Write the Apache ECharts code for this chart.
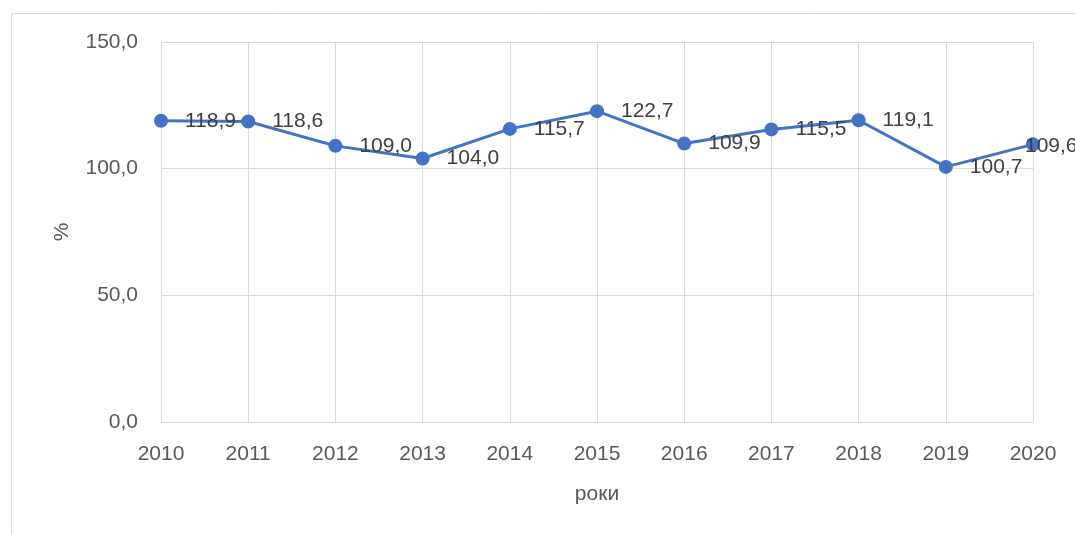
<!DOCTYPE html>
<html>
<head>
<meta charset="utf-8">
<script src="https://cdn.jsdelivr.net/npm/echarts@6/dist/echarts.min.js"></script>
<style>
  html, body { margin: 0; padding: 0; background: #fff; }
  #chart { width: 1075px; height: 534px; }
</style>
</head>
<body>
<div id="chart"></div>
<script>
// роки
const years = ["2010", "2011", "2012", "2013", "2014", "2015", "2016", "2017", "2018", "2019", "2020"];
// %
const values = [118.9, 118.6, 109.0, 104.0, 115.7, 122.7, 109.9, 115.5, 119.1, 100.7, 109.6];
const yTicks = [0, 50, 100, 150];

const fmt = (v) => Number(v).toFixed(1).replace(".", ",");
const font = "'Liberation Sans', Arial, sans-serif";

var chart = echarts.init(document.getElementById("chart"));
var option = {
  animation: false,
  backgroundColor: "#fff",
  graphic: [
    {
      // chart area frame (cut off on the right and bottom)
      type: "rect",
      shape: { x: 11.5, y: 13.5, width: 1200, height: 700 },
      style: { fill: "none", stroke: "#d9d9d9", lineWidth: 1 },
      silent: true,
    },
  ],
  grid: { left: 161, right: 42, top: 42, bottom: 112 },
  xAxis: {
    type: "category",
    data: years,
    boundaryGap: false,
    name: "роки",
    nameLocation: "middle",
    nameGap: 62,
    nameTextStyle: { color: "#595959", fontSize: 21, fontFamily: font },
    axisLine: { lineStyle: { color: "#d9d9d9", width: 1 } },
    axisTick: { show: false },
    axisLabel: { color: "#595959", fontSize: 21, fontFamily: font, margin: 22 },
    splitLine: { show: true, lineStyle: { color: "#d9d9d9", width: 1 } },
  },
  yAxis: {
    type: "value",
    min: yTicks[0],
    max: yTicks[yTicks.length - 1],
    interval: 50,
    name: "%",
    nameLocation: "middle",
    nameGap: 88,
    nameTextStyle: { color: "#595959", fontSize: 21, fontFamily: font },
    axisLine: { show: false },
    axisTick: { show: false },
    axisLabel: { color: "#595959", fontSize: 21, fontFamily: font, margin: 23, formatter: fmt },
    splitLine: { lineStyle: { color: "#d9d9d9", width: 1 } },
  },
  series: [
    {
      type: "line",
      data: values.map((v, i) =>
        i === values.length - 1
          ? { value: v, label: { position: [-1, 9], align: "left", verticalAlign: "middle", offset: [0, 0] } }
          : v
      ),
      symbol: "circle",
      symbolSize: 14,
      lineStyle: { color: "#4472C4", width: 3 },
      itemStyle: { color: "#4472C4" },
      label: {
        show: true,
        position: "right",
        distance: 17,
        offset: [0, 2],
        color: "#404040",
        fontSize: 21,
        fontFamily: font,
        formatter: (p) => fmt(p.value),
      },
      labelLayout: { hideOverlap: false },
      z: 3,
    },
  ],
};
option && chart.setOption(option);
</script>
</body>
</html>
